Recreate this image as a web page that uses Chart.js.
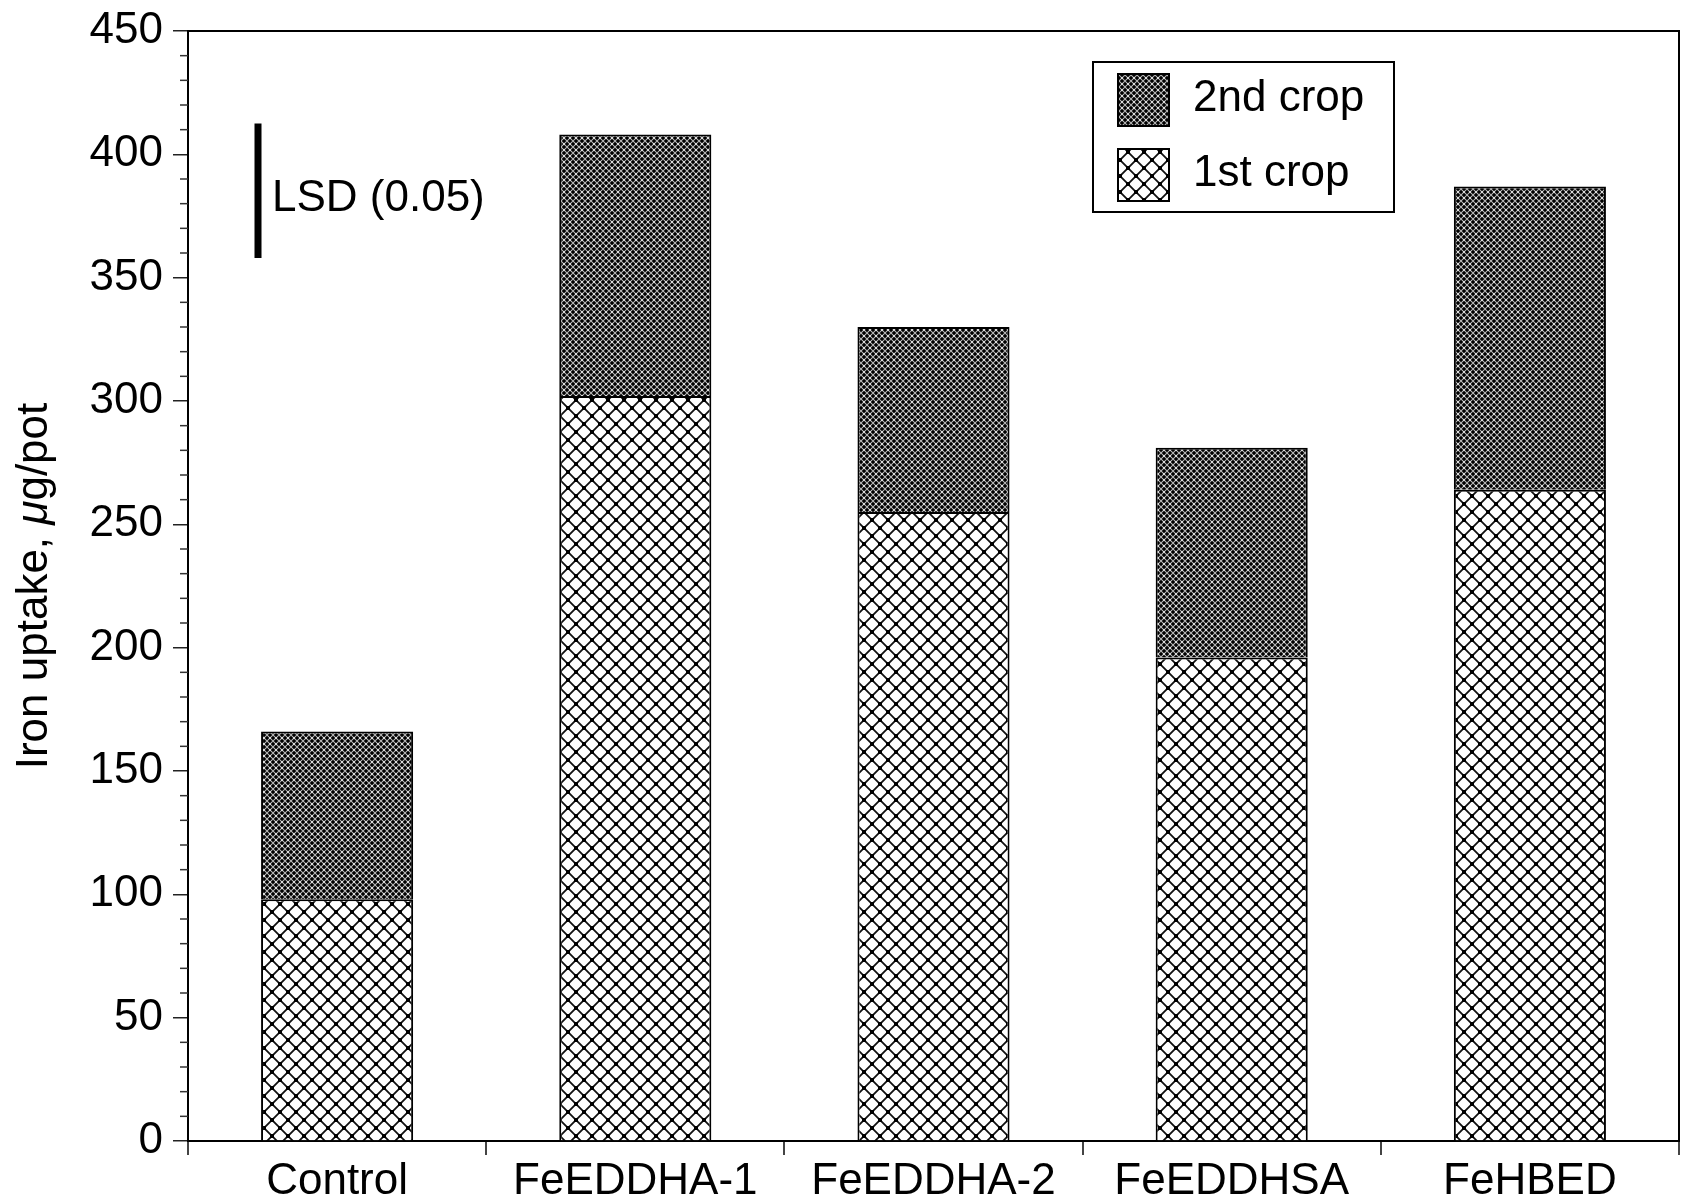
<!DOCTYPE html>
<html>
<head>
<meta charset="utf-8">
<script src="https://cdn.jsdelivr.net/npm/chart.js@4.4.1/dist/chart.umd.min.js"></script>
<style>
  html, body { margin: 0; padding: 0; background: #fff; }
  #wrap { width: 1685px; height: 1202px; }
</style>
</head>
<body>
<div id="wrap"><canvas id="chart" width="1685" height="1202"></canvas></div>
<script>
// data (iron uptake, ug/pot)
const categories = ['Control', 'FeEDDHA-1', 'FeEDDHA-2', 'FeEDDHSA', 'FeHBED'];
const firstCrop  = [98, 302, 255, 196, 264];
const secondCrop = [68, 106, 75, 85, 123];
const yTicksMajor = [0, 50, 100, 150, 200, 250, 300, 350, 400, 450];
const lsdValue = 54.5;      // length of the LSD bar
const lsdBase  = 358;       // where the LSD bar starts on the y scale

const FONT = "'Liberation Sans', Arial, Helvetica, sans-serif";

// open crosshatch with dots at the crossings (1st crop)
function openHatch() {
  const s = 16;
  const c = document.createElement('canvas');
  c.width = s; c.height = s;
  const g = c.getContext('2d');
  g.fillStyle = '#fff';
  g.fillRect(0, 0, s, s);
  g.strokeStyle = '#111';
  g.lineWidth = 1.8;
  g.beginPath();
  g.moveTo(0, 0); g.lineTo(s, s);
  g.moveTo(s, 0); g.lineTo(0, s);
  g.stroke();
  g.fillStyle = '#000';
  [[0, 0], [s, 0], [0, s], [s, s], [s / 2, s / 2]].forEach(([x, y]) => g.fillRect(x - 2, y - 2, 4, 4));
  return g.createPattern(c, 'repeat');
}

// dense dark hatch (2nd crop)
function denseHatch() {
  const s = 6;
  const c = document.createElement('canvas');
  c.width = s; c.height = s;
  const g = c.getContext('2d');
  g.fillStyle = '#000';
  g.fillRect(0, 0, s, s);
  g.strokeStyle = '#b8b8b8';
  g.lineWidth = 1.1;
  g.beginPath();
  g.moveTo(0, 0); g.lineTo(s, s);
  g.moveTo(s, 0); g.lineTo(0, s);
  g.stroke();
  g.fillStyle = '#fff';
  [[0, 0], [s, 0], [0, s], [s, s]].forEach(([x, y]) => g.fillRect(x - 0.75, y - 0.75, 1.5, 1.5));
  return g.createPattern(c, 'repeat');
}

const pat1 = openHatch();
const pat2 = denseHatch();

// frame, minor ticks, LSD bar, legend and y title
const extras = {
  id: 'extras',
  afterDraw(chart) {
    const ctx = chart.ctx;
    const a = chart.chartArea;
    const y = chart.scales.y;
    ctx.save();

    // top and right edges of the box
    ctx.strokeStyle = '#000';
    ctx.lineWidth = 2;
    ctx.beginPath();
    ctx.moveTo(a.left, a.top);
    ctx.lineTo(a.right, a.top);
    ctx.lineTo(a.right, a.bottom);
    ctx.stroke();

    // minor ticks every 10
    ctx.strokeStyle = '#333';
    ctx.lineWidth = 1.5;
    for (let v = 0; v <= 450; v += 10) {
      if (v % 50 === 0) continue;
      const py = y.getPixelForValue(v);
      ctx.beginPath();
      ctx.moveTo(a.left - 8, py);
      ctx.lineTo(a.left, py);
      ctx.stroke();
    }

    // LSD bar
    const lx = a.left + 70;
    ctx.strokeStyle = '#000';
    ctx.lineWidth = 7;
    ctx.beginPath();
    ctx.moveTo(lx, y.getPixelForValue(lsdBase));
    ctx.lineTo(lx, y.getPixelForValue(lsdBase + lsdValue));
    ctx.stroke();
    ctx.fillStyle = '#000';
    ctx.font = '44px ' + FONT;
    ctx.textAlign = 'left';
    ctx.textBaseline = 'middle';
    ctx.fillText('LSD (0.05)', lx + 14, y.getPixelForValue(lsdBase + lsdValue / 2) + 8);

    // legend
    const bx = 1093, by = 62, bw = 301, bh = 150;
    ctx.fillStyle = '#fff';
    ctx.fillRect(bx, by, bw, bh);
    ctx.lineWidth = 2;
    ctx.strokeRect(bx, by, bw, bh);
    const items = [chart.data.datasets[1], chart.data.datasets[0]];
    items.forEach((ds, i) => {
      const sy = by + 12 + i * 75;
      ctx.fillStyle = ds.backgroundColor;
      ctx.fillRect(bx + 25, sy, 51, 52);
      ctx.lineWidth = 2;
      ctx.strokeStyle = '#000';
      ctx.strokeRect(bx + 25, sy, 51, 52);
      ctx.fillStyle = '#000';
      ctx.font = '44px ' + FONT;
      ctx.textBaseline = 'middle';
      ctx.fillText(ds.label, bx + 100, sy + 25);
    });

    // y axis title with italic mu
    ctx.translate(35, (a.top + a.bottom) / 2);
    ctx.rotate(-Math.PI / 2);
    const p1 = 'Iron uptake, ', p2 = '\u03bc', p3 = 'g/pot';
    const fN = '44px ' + FONT, fI = 'italic 44px ' + FONT;
    ctx.font = fN; const w1 = ctx.measureText(p1).width, w3 = ctx.measureText(p3).width;
    ctx.font = fI; const w2 = ctx.measureText(p2).width;
    let tx = -(w1 + w2 + w3) / 2;
    ctx.textAlign = 'left';
    ctx.textBaseline = 'middle';
    ctx.font = fN; ctx.fillText(p1, tx, 0); tx += w1;
    ctx.font = fI; ctx.fillText(p2, tx, 0); tx += w2;
    ctx.font = fN; ctx.fillText(p3, tx, 0);

    ctx.restore();
  }
};

new Chart(document.getElementById('chart'), {
  type: 'bar',
  data: {
    labels: categories,
    datasets: [
      { label: '1st crop', data: firstCrop, backgroundColor: pat1, borderColor: '#000', borderWidth: 2 },
      { label: '2nd crop', data: secondCrop, backgroundColor: pat2, borderColor: '#000', borderWidth: 2 }
    ]
  },
  options: {
    responsive: false,
    animation: false,
    events: [],
    barPercentage: 0.51,
    categoryPercentage: 1,
    layout: { padding: { top: 31, right: 6, left: 0, bottom: 0 } },
    plugins: { legend: { display: false }, tooltip: { enabled: false } },
    scales: {
      x: {
        stacked: true,
        grid: { offset: true, drawOnChartArea: false, tickLength: 14, color: '#444', lineWidth: 2 },
        border: { display: true, color: '#000', width: 2 },
        ticks: { color: '#000', padding: 0, font: { family: FONT, size: 44 } },
        afterFit: s => { s.height = 61; s.paddingLeft = 0; s.paddingRight = 0; }
      },
      y: {
        stacked: true,
        min: 0,
        max: 450,
        afterBuildTicks: s => { s.ticks = yTicksMajor.map(v => ({ value: v })); },
        grid: { drawOnChartArea: false, tickLength: 15, color: '#222', lineWidth: 1.5 },
        border: { display: true, color: '#000', width: 2 },
        ticks: { color: '#000', padding: 10, font: { family: FONT, size: 44 } },
        afterFit: s => { s.width = 188; s.paddingTop = 0; s.paddingBottom = 0; }
      }
    }
  },
  plugins: [extras]
});
</script>
</body>
</html>
